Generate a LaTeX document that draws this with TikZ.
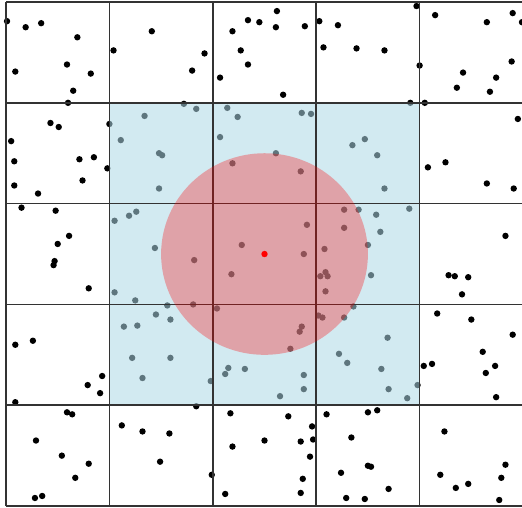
\documentclass[tikz,border=0pt]{standalone}
\usepackage{xcolor}
\usepackage{tikz}

\definecolor{lightblue}{RGB}{173,216,230}

\begin{document}
\begin{tikzpicture}[
    x=2.068cm, y=2.016cm,
    gridline/.style={draw=black!80, line width=0.9pt},
    sample/.style={fill=black},
    region/.style={fill=lightblue, fill opacity=0.55},
    reach/.style={fill=red, fill opacity=0.3},
    query/.style={fill=red}
]
    % page frame
    \useasboundingbox (-0.058,-0.01) rectangle (4.99,5.02);
    \clip (-0.058,-0.01) rectangle (4.99,5.02);

    % sample points, top to bottom
    \foreach \px/\py in {
        0.01/4.81, 0.19/4.75, 0.34/4.79, 0.69/4.65, 1.41/4.71, 1.04/4.52, 0.09/4.31,
        0.59/4.38, 0.82/4.29, 0.65/4.12, 0.60/4.00, 1.34/3.87, 1.00/3.79, 0.43/3.80,
        0.51/3.76, 1.80/4.32, 1.92/4.49, 2.07/4.25, 2.19/4.71, 2.34/4.82, 2.45/4.80,
        2.62/4.91, 2.61/4.75, 2.27/4.52, 2.34/4.38, 2.89/4.76, 3.03/4.81, 3.21/4.77,
        3.07/4.55, 2.68/4.08, 1.72/3.99, 1.84/3.94, 2.14/3.95, 2.24/3.86, 2.86/3.90,
        2.95/3.89, 3.97/4.96, 4.15/4.87, 4.65/4.80, 4.90/4.89, 4.99/4.80, 3.39/4.54,
        3.66/4.52, 4.00/4.37, 4.42/4.30, 4.74/4.25, 4.89/4.41, 4.36/4.15, 4.68/4.11,
        3.91/4.00, 4.05/4.00, 4.95/3.84}
        \fill[sample] (\px,\py) circle[radius=0.064cm];
    \foreach \px/\py in {
        0.05/3.62, 0.08/3.42, 0.71/3.44, 0.85/3.46, 0.98/3.35, 0.74/3.23, 0.08/3.18,
        0.31/3.10, 0.15/2.96, 0.48/2.93, 0.61/2.68, 0.50/2.60, 1.11/3.63, 1.48/3.50,
        1.51/3.48, 1.48/3.15, 1.05/2.83, 1.19/2.88, 1.26/2.92, 1.44/2.56, 2.07/3.66,
        2.61/3.50, 2.19/3.40, 2.85/3.32, 2.91/2.79, 3.27/2.94, 3.27/2.76, 2.28/2.59,
        3.08/2.55, 2.88/2.50, 3.35/3.58, 3.47/3.64, 3.59/3.48, 3.66/3.15, 3.41/2.94,
        3.58/2.89, 3.90/2.95, 3.62/2.72, 3.50/2.59, 4.08/3.36, 4.25/3.41, 4.65/3.20,
        4.91/3.15, 4.83/2.68}
        \fill[sample] (\px,\py) circle[radius=0.064cm];
    \foreach \px/\py in {
        0.47/2.43, 0.46/2.39, 0.80/2.16, 1.05/2.12, 1.25/2.04, 1.56/1.99, 1.45/1.90,
        1.59/1.85, 1.14/1.78, 1.27/1.79, 1.22/1.47, 1.59/1.47, 1.32/1.27, 0.09/1.60,
        0.26/1.64, 0.93/1.29, 1.82/2.44, 2.18/2.30, 1.81/2.00, 2.04/1.96, 3.04/2.28,
        3.09/2.32, 3.11/2.28, 3.09/2.13, 3.02/1.89, 3.06/1.87, 2.86/1.78, 2.84/1.73,
        2.75/1.56, 3.27/1.87, 3.22/1.51, 3.30/1.42, 2.15/1.37, 2.12/1.31, 2.31/1.36,
        2.88/1.30, 1.98/1.24, 3.53/2.29, 3.36/1.98, 3.69/1.67, 3.63/1.36, 4.28/2.29,
        4.34/2.28, 4.47/2.27, 4.41/2.10, 4.17/1.91, 4.50/1.85, 4.90/1.70, 4.61/1.53,
        4.04/1.39, 4.12/1.41, 4.73/1.39, 4.64/1.32}
        \fill[sample] (\px,\py) circle[radius=0.064cm];
    \foreach \px/\py in {
        0.79/1.20, 0.91/1.12, 0.09/1.03, 0.59/0.93, 0.64/0.91, 0.29/0.65, 0.54/0.50,
        0.80/0.42, 0.67/0.28, 0.28/0.08, 0.35/0.10, 1.12/0.80, 1.32/0.74, 1.58/0.72,
        1.49/0.44, 2.65/1.09, 2.88/1.16, 1.84/0.99, 2.17/0.92, 2.73/0.89, 3.10/0.91,
        2.96/0.79, 2.50/0.65, 2.85/0.64, 2.97/0.66, 2.19/0.59, 2.94/0.49, 3.24/0.33,
        1.99/0.31, 2.87/0.27, 2.12/0.12, 2.85/0.13, 3.29/0.08, 3.70/1.16, 3.88/1.07,
        3.98/1.20, 4.74/1.08, 3.50/0.93, 3.59/0.95, 3.34/0.68, 4.24/0.74, 3.50/0.40,
        3.53/0.39, 4.83/0.41, 4.79/0.28, 4.20/0.31, 4.47/0.22, 4.35/0.18, 3.70/0.17,
        3.47/0.07, 4.77/0.06}
        \fill[sample] (\px,\py) circle[radius=0.064cm];

    % neighbourhood cells
    \fill[region] (1,1) rectangle (4,4);

    % cells
    \foreach \k in {0,...,5} {
        \draw[gridline] (\k,0) -- (\k,5);
        \draw[gridline] (0,\k) -- (5,\k);
    }

    % search radius and query point
    \coordinate (q) at (2.5,2.5);
    \fill[reach] (q) circle[radius=1];
    \fill[query] (q) circle[radius=0.064cm];

\end{tikzpicture}
\end{document}
